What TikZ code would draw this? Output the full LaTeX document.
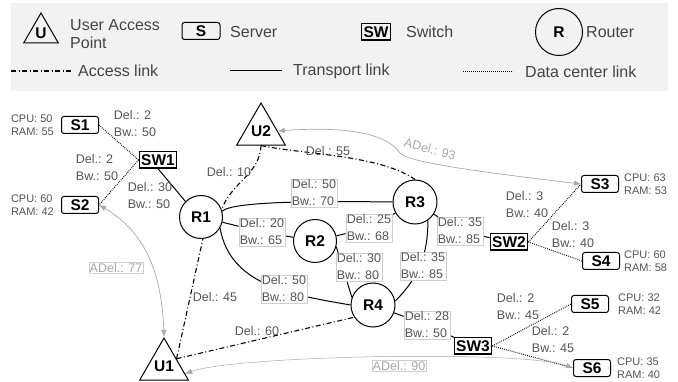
\documentclass[tikz,border=0pt]{standalone}
\usepackage{fontspec}
\setmainfont{Liberation Sans}
\usepackage{tikz}
\usetikzlibrary{shapes.geometric,arrows.meta,positioning,backgrounds}
\definecolor{txtgray}{HTML}{555555}
\definecolor{legtxt}{HTML}{444444}
\definecolor{adgray}{HTML}{A8A8A8}
\definecolor{frgray}{HTML}{CFCFCF}
\definecolor{legbg}{HTML}{F2F2F2}
\newcommand{\namefont}{\fontsize{15.5}{18}\selectfont\bfseries}
\newcommand{\lblfont}{\fontsize{12.5}{17}\selectfont}
\newcommand{\infofont}{\fontsize{11}{13.5}\selectfont}
\newcommand{\legfont}{\fontsize{16}{18}\selectfont}

\begin{document}
\begin{tikzpicture}[x=1pt,y=-1pt]
\tikzstyle{every node}+=[inner sep=0pt]
\tikzstyle{router}=[circle,draw,line width=1pt,minimum size=43pt,font=\namefont]
\tikzstyle{switch}=[rectangle,draw,line width=1.2pt,inner xsep=2pt,inner ysep=2.5pt,text height=11.2pt,text depth=0pt,font=\namefont]
\tikzstyle{server}=[rectangle,rounded corners=2.5pt,draw,line width=1pt,minimum width=37pt,minimum height=17pt,font=\namefont]
\tikzstyle{apoint}=[regular polygon,regular polygon sides=3,draw,line width=1pt,minimum size=48pt,font=\namefont]
\tikzstyle{info}=[align=left,text=txtgray,font=\infofont,inner sep=1pt]
\tikzstyle{dlabel}=[align=left,text=txtgray,font=\lblfont,inner sep=1pt]
\tikzstyle{tlabel}=[dlabel,fill=white,draw=frgray,line width=0.4pt]
\tikzstyle{alabel}=[text=adgray,font=\lblfont,inner sep=1pt]
\tikzstyle{legtext}=[anchor=west,align=left,text=legtxt,font=\legfont]
\tikzstyle{tl}=[line width=1pt]
\tikzstyle{acc}=[line width=1.1pt,dash pattern=on 5pt off 2.5pt on 1pt off 2.5pt]
\tikzstyle{dcl}=[line width=1pt,dash pattern=on 0.8pt off 1.2pt]
\tikzstyle{adel}=[adgray,line width=0.7pt,{Latex[length=7pt,width=5.5pt]}-{Latex[length=7pt,width=5.5pt]}]
\useasboundingbox (0,0) rectangle (678,382);

\node[apoint,minimum size=40pt] (lgU) at (41,33) {U};
\node[legtext] (lgUtxt) at (70,34) {User Access\\Point};
\node[server,minimum width=38pt] (lgS) at (201,31) {S};
\node[legtext] (lgStxt) at (230,32) {Server};
\node[switch] (lgSW) at (376,32) {SW};
\node[legtext] (lgSWtxt) at (406,32) {Switch};
\node[router,minimum size=47pt] (lgR) at (559,32) {R};
\node[legtext] (lgRtxt) at (586,32) {Router};
\coordinate (lgA1) at (11,71);
\coordinate (lgA2) at (73,71);
\node[legtext] (lgAtxt) at (78,71) {Access link};
\coordinate (lgT1) at (230,71);
\coordinate (lgT2) at (282,71);
\node[legtext] (lgTtxt) at (293,71) {Transport link};
\coordinate (lgD1) at (463,72);
\coordinate (lgD2) at (513,72);
\node[legtext] (lgDtxt) at (525,72) {Data center link};

\node[apoint] (U2) at (261,131) {U2};
\node[apoint,minimum size=47pt] (U1) at (164,366) {U1};
\node[router] (R1) at (201,217) {R1};
\node[router] (R2) at (315,241) {R2};
\node[router,minimum size=44pt] (R3) at (415,202) {R3};
\node[router,minimum size=44pt] (R4) at (373,305) {R4};
\node[switch] (SW1) at (158,160) {SW1};
\node[switch] (SW2) at (509,242) {SW2};
\node[switch] (SW3) at (473,346) {SW3};
\node[server] (S1) at (80,125) {S1};
\node[server] (S2) at (80,205) {S2};
\node[server] (S3) at (600,184) {S3};
\node[server] (S4) at (601,261) {S4};
\node[server] (S5) at (590,304) {S5};
\node[server] (S6) at (592,368) {S6};

\node[info,left=6pt of S1] (S1info) {CPU: 50\\RAM: 55};
\node[info,left=6pt of S2] (S2info) {CPU: 60\\RAM: 42};
\node[info,right=4pt of S3] (S3info) {CPU: 63\\RAM: 53};
\node[info,right=3pt of S4] (S4info) {CPU: 60\\RAM: 58};
\node[info,right=8pt of S5] (S5info) {CPU: 32\\RAM: 42};
\node[info,right=5pt of S6] (S6info) {CPU: 35\\RAM: 40};

\node[dlabel] (lS1SW1) at (135,124) {Del.: 2\\Bw.: 50};
\node[dlabel] (lSW1S2) at (97,168) {Del.: 2\\Bw.: 50};
\node[dlabel] (lSW1R1) at (150,196) {Del.: 30\\Bw.: 50};
\node[dlabel] (lR1U2) at (229,172) {Del.: 10};
\node[dlabel] (lU2R3) at (328,151) {Del.: 55};
\node[tlabel] (lR1R3) at (314,193) {Del.: 50\\Bw.: 70};
\node[tlabel] (lR1R2) at (262,232) {Del.: 20\\Bw.: 65};
\node[tlabel] (lR2R3) at (369,228) {Del.: 25\\Bw.: 68};
\node[tlabel] (lR2R4) at (359,267) {Del.: 30\\Bw.: 80};
\node[tlabel] (lR3R4) at (423,266) {Del.: 35\\Bw.: 85};
\node[tlabel] (lR1R4) at (284,289) {Del.: 50\\Bw.: 80};
\node[tlabel] (lR3SW2) at (460,231) {Del.: 35\\Bw.: 85};
\node[tlabel] (lR4SW3) at (427,325) {Del.: 28\\Bw.: 50};
\node[dlabel] (lSW2S3) at (527,205) {Del.: 3\\Bw.: 40};
\node[dlabel] (lSW2S4) at (573,235) {Del.: 3\\Bw.: 40};
\node[dlabel] (lSW3S5) at (518,307) {Del.: 2\\Bw.: 45};
\node[dlabel] (lSW3S6) at (553,340) {Del.: 2\\Bw.: 45};
\node[dlabel] (lU1R1) at (215,297) {Del.: 45};
\node[dlabel] (lU1R4) at (257,331) {Del.: 60};
\node[alabel,draw=frgray,line width=0.4pt] (lS2U1) at (116,268) {ADel.: 77};
\node[alabel,rotate=-14] (lU2S3) at (430,149) {ADel.: 93};
\node[alabel,draw=frgray,line width=0.4pt] (lU1S6) at (399,366) {ADel.: 90};

\begin{scope}[on background layer]
\fill[legbg] (11,3) rectangle (668,91);
\draw[acc] (lgA1) -- (lgA2);
\draw[tl] (lgT1) -- (lgT2);
\draw[dcl] (lgD1) -- (lgD2);

\draw[dcl] (S1.east) -- (SW1.west);
\draw[dcl] (SW1.west) -- (S2.east);
\draw[tl] (SW1.south) -- (R1.135);
\draw[tl] (R1) -- (lR1R2) -- (R2);
\draw[tl] (R1.15) to[out=50,in=180,looseness=0.25] (R3.west);
\draw[tl] (R1.-30) to[out=-80,in=170] (R4.west);
\draw[tl] (R2) -- (lR2R3) -- (R3);
\draw[tl] (R2.-15) -- (R4.160);
\draw[tl] (R3.-55) to[out=-90,in=45] (R4.10);
\draw[tl] (R3) -- (lR3SW2) -- (SW2);
\draw[tl] (R4) -- (lR4SW3) -- (SW3);
\draw[dcl] (SW2.east) -- (S3.west);
\draw[dcl] (SW2.east) -- (S4.west);
\draw[dcl] (SW3.east) -- (S5.west);
\draw[dcl] (SW3.east) -- (S6.west);

\draw[acc] (U2.south) to[out=-93,in=70] (R1.20);
\draw[acc] (U2.south) to[out=-12,in=145,looseness=0.7] (R3.north);
\draw[acc] (U1.30) -- (R1.-85);
\draw[acc] (U1.30) -- (R4.213);

\draw[adel] (S2.east) to[out=-30,in=92] (U1.north);
\draw[adel] (U2.east) .. controls (360,125) and (390,138) .. (400,153) .. controls (406,162) and (480,172) .. (S3.west);
\draw[adel,line width=0.5pt] (U1.-20) to[out=20,in=160,looseness=0.35] (S6.west);
\end{scope}
\end{tikzpicture}
\end{document}
